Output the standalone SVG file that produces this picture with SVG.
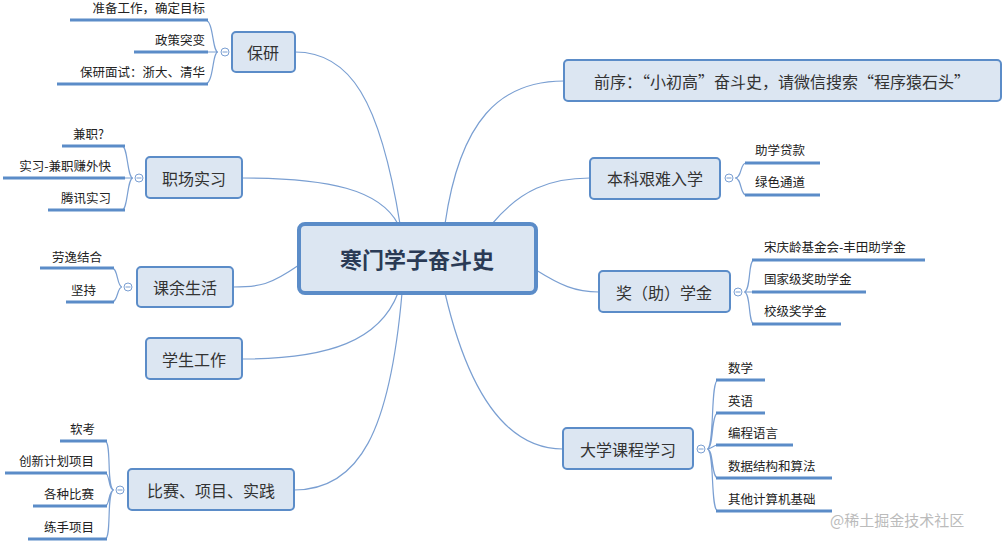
<svg xmlns="http://www.w3.org/2000/svg" width="1008" height="547" viewBox="0 0 1008 547">
<style>
.n{fill:#dce6f2;stroke:#5b8cc8;stroke-width:2}
.t{font-family:"Noto Sans CJK SC",sans-serif;font-size:16px;fill:#333;text-anchor:middle;dominant-baseline:central}
.c{font-family:"Noto Sans CJK SC",sans-serif;font-size:12.5px;fill:#222}
.r{text-anchor:end}
.u{stroke:#5b8cc8;stroke-width:3;fill:none}
.l{stroke:#7a9fd2;stroke-width:1.2;fill:none}
.o{fill:#fff;stroke:#7a9fd2;stroke-width:1}
</style>
<rect width="1008" height="547" fill="#fff"/>
<g id="connectors">
<path class="l" d="M400 224 C380 100 350 52 295 52"/>
<path class="l" d="M398 224 C380 190 330 178 242 178"/>
<path class="l" d="M299 265 C270 285 260 287 233 287"/>
<path class="l" d="M398 293 C380 340 330 359 242 359"/>
<path class="l" d="M402 293 C390 430 360 490 294 490"/>
<path class="l" d="M445 224 C460 120 500 81 564 81"/>
<path class="l" d="M492 224 C520 190 550 178 590 178"/>
<path class="l" d="M536 270 C560 285 575 292 599 292"/>
<path class="l" d="M445 293 C470 400 510 449 563 449"/>
<path class="l" d="M218 52 C212 52 214 20 205 20 M218 52 H205 M218 52 C212 52 214 84 205 84"/>
<path class="l" d="M133 178 C127 178 128 146 122 146 M133 178 H122 M133 178 C127 178 128 210 122 210"/>
<path class="l" d="M122 287 C117 287 118 268 112 268 M122 287 C117 287 118 302 112 302"/>
<path class="l" d="M114 490 C106 490 112 441 105 441 M114 490 C108 490 110 473 105 473 M114 490 C108 490 110 506 105 506 M114 490 C106 490 112 539 105 539"/>
<path class="l" d="M735 178 C742 178 740 163 746 163 M735 178 C742 178 740 195 746 195"/>
<path class="l" d="M744 292 C751 292 748 260 754 260 M744 292 H754 M744 292 C751 292 748 324 754 324"/>
<path class="l" d="M707 449 C715 449 710 380 718 380 M707 449 C714 449 711 413 718 413 M707 449 C712 449 713 445 718 445 M707 449 C714 449 711 478 718 478 M707 449 C715 449 710 511 718 511"/>
<g class="u">
<path d="M70 20H208M134 52H208M57 84H208"/>
<path d="M62 146H125M3 178H125M48 210H125"/>
<path d="M40 268H114M66 302H114"/>
<path d="M60 441H107M5 473H107M33 506H107M28 539H107"/>
<path d="M745 163H820M745 195H820"/>
<path d="M752 260H925M752 292H866M752 324H841"/>
<path d="M716 380H765M716 413H765M716 445H793M716 478H832M716 511H832"/>
</g>
<g class="o"><circle cx="225" cy="52" r="4"/><circle cx="139" cy="178" r="4"/><circle cx="128" cy="287" r="4"/><circle cx="120" cy="490" r="4"/><circle cx="729" cy="178" r="4"/><circle cx="738" cy="292" r="4"/><circle cx="701" cy="449" r="4"/></g>
<g stroke="#7a9fd2" stroke-width="1"><path d="M222.5 52h5M136.5 178h5M125.5 287h5M117.5 490h5M726.5 178h5M735.5 292h5M698.5 449h5"/></g>
</g>
<g id="center"><rect x="299" y="224" width="237" height="69" rx="6" fill="#dce6f2" stroke="#5b8cc8" stroke-width="4"/><text x="417" y="258" class="t" style="font-size:22px;font-weight:bold;fill:#2a3a55">寒门学子奋斗史</text></g>
<g id="baoyan"><rect class="n" x="232" y="32" width="63" height="40" rx="4"/><text class="t" x="263" y="52">保研</text>
<text class="c r" x="205" y="13">准备工作，确定目标</text><text class="c r" x="205" y="45">政策突变</text><text class="c r" x="205" y="77">保研面试：浙大、清华</text></g>
<g id="zhichang"><rect class="n" x="146" y="157" width="96" height="41" rx="4"/><text class="t" x="194" y="178">职场实习</text>
<text class="c r" x="104" y="139">兼职?</text><text class="c r" x="111" y="171">实习-兼职赚外快</text><text class="c r" x="111" y="203">腾讯实习</text></g>
<g id="keyu"><rect class="n" x="137" y="267" width="96" height="40" rx="4"/><text class="t" x="185" y="287">课余生活</text>
<text class="c r" x="102" y="262">劳逸结合</text><text class="c r" x="96" y="295">坚持</text></g>
<g id="xuesheng"><rect class="n" x="146" y="338" width="96" height="41" rx="4"/><text class="t" x="194" y="359">学生工作</text></g>
<g id="bisai"><rect class="n" x="128" y="469" width="166" height="41" rx="4"/><text class="t" x="211" y="490">比赛、项目、实践</text>
<text class="c r" x="95" y="434">软考</text><text class="c r" x="94" y="466">创新计划项目</text><text class="c r" x="94" y="499">各种比赛</text><text class="c r" x="94" y="532">练手项目</text></g>
<g id="qianxu"><rect class="n" x="564" y="60" width="437" height="41" rx="4"/><text class="t" x="782" y="81">前序：“小初高”奋斗史，请微信搜索“程序猿石头”</text></g>
<g id="benke"><rect class="n" x="590" y="158" width="130" height="41" rx="4"/><text class="t" x="655" y="178">本科艰难入学</text>
<text class="c" x="755" y="155">助学贷款</text><text class="c" x="755" y="187">绿色通道</text></g>
<g id="jiang"><rect class="n" x="599" y="271" width="131" height="41" rx="4"/><text class="t" x="664" y="292">奖（助）学金</text>
<text class="c" x="764" y="252">宋庆龄基金会-丰田助学金</text><text class="c" x="764" y="284">国家级奖助学金</text><text class="c" x="764" y="316">校级奖学金</text></g>
<g id="daxue"><rect class="n" x="563" y="428" width="130" height="41" rx="4"/><text class="t" x="628" y="449">大学课程学习</text>
<text class="c" x="728" y="373">数学</text><text class="c" x="728" y="406">英语</text><text class="c" x="728" y="438">编程语言</text><text class="c" x="728" y="471">数据结构和算法</text><text class="c" x="728" y="504">其他计算机基础</text></g>
<text x="830" y="526" style="font-family:'Noto Sans CJK SC',sans-serif;font-size:15px;fill:#bbb">@稀土掘金技术社区</text>
</svg>
